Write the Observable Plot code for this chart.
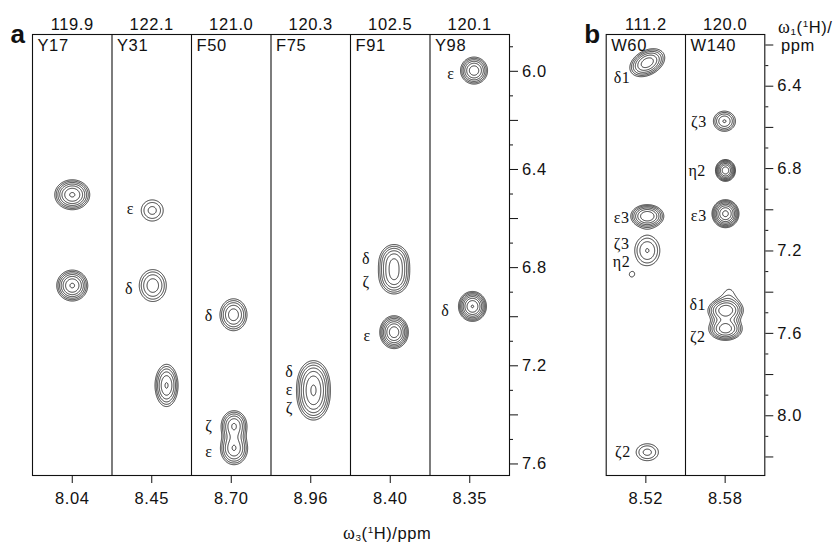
<!DOCTYPE html>
<html><head><meta charset="utf-8">
<script src="https://cdn.jsdelivr.net/npm/d3@7"></script>
<script src="https://cdn.jsdelivr.net/npm/@observablehq/plot@0.6"></script>
<style>
body{margin:0;background:#fff;}
#wrap{position:relative;width:837px;height:543px;overflow:hidden;font-family:"Liberation Sans",Arial,sans-serif;color:#111;background:#fff}
#wrap svg{position:absolute;top:0}
#wrap svg text{letter-spacing:0.6px}
.lab{position:absolute;font-size:16.5px;line-height:1;white-space:nowrap;letter-spacing:0.6px}
.lab sub,.lab sup{font-size:0.6em;line-height:0}
.lab sub{vertical-align:-0.2em}
.w{font-family:"Liberation Serif",serif;font-size:18px}
</style></head><body><div id="wrap"></div>
<script>
// ---- Panel a ----
const stripsA = ["Y17", "Y31", "F50", "F75", "F91", "Y98"];
const n15A = ["119.9", "122.1", "121.0", "120.3", "102.5", "120.1"];
const h1A = ["8.04", "8.45", "8.70", "8.96", "8.40", "8.35"];
const yMajorA = [6.0, 6.4, 6.8, 7.2, 7.6];
const yMidA = [6.2, 6.6, 7.0, 7.4];
const yFineA = [5.9, 6.1, 6.3, 6.5, 6.7, 6.9, 7.1, 7.3, 7.5];
// peaks: [strip, offset from strip centre, ω1 ppm, outer half-width x (strip units), outer half-width y (ppm), intensity, tilt]
const peaksA = [
  [0, 0.000, 6.503, 0.220, 0.061, 0.63, 0],
  [0, 0.000, 6.873, 0.195, 0.063, 0.63, 0],
  [1, 0.006, 6.567, 0.138, 0.043, 0.20, 0],
  [1, 0.013, 6.873, 0.170, 0.065, 0.30, 0],
  [1, 0.186, 7.280, 0.145, 0.086, 0.46, 0],
  [2, 0.028, 6.992, 0.170, 0.065, 0.40, 0],
  [2, 0.035, 7.443, 0.160, 0.060, 0.45, 0],
  [2, 0.035, 7.538, 0.170, 0.065, 0.45, 0],
  [3, 0.034, 7.250, 0.165, 0.068, 0.30, 0],
  [3, 0.034, 7.300, 0.165, 0.068, 0.30, 0],
  [3, 0.034, 7.350, 0.165, 0.068, 0.30, 0],
  [4, 0.048, 6.771, 0.180, 0.065, 0.40, 0],
  [4, 0.048, 6.842, 0.180, 0.065, 0.40, 0],
  [4, 0.048, 7.063, 0.180, 0.067, 0.75, 0],
  [5, 0.054, 5.997, 0.170, 0.055, 0.55, 0],
  [5, 0.034, 6.958, 0.176, 0.061, 0.83, 0]
];
// labels: [strip, position across strip, ω1 ppm, text]
const labelsA = [
  [1, 0.233, 6.559, "ε"], [1, 0.216, 6.885, "δ"],
  [2, 0.218, 6.995, "δ"], [2, 0.218, 7.443, "ζ"], [2, 0.218, 7.552, "ε"],
  [3, 0.230, 7.224, "δ"], [3, 0.230, 7.297, "ε"], [3, 0.230, 7.370, "ζ"],
  [4, 0.197, 6.764, "δ"], [4, 0.197, 6.859, "ζ"], [4, 0.210, 7.077, "ε"],
  [5, 0.264, 6.009, "ε"], [5, 0.193, 6.975, "δ"]
];

// ---- Panel b ----
const stripsB = ["W60", "W140"];
const n15B = ["111.2", "120.0"];
const h1B = ["8.52", "8.58"];
const yMajorB = [6.4, 6.8, 7.2, 7.6, 8.0];
const yMidB = [6.2, 6.6, 7.0, 7.4, 7.8, 8.2];
const yFineB = [6.3, 6.5, 6.7, 6.9, 7.1, 7.3, 7.5, 7.7, 7.9, 8.1];
const peaksB = [
  [0, 0.018, 6.286, 0.220, 0.068, 0.55, -0.35],
  [0, 0.018, 7.031, 0.208, 0.056, 0.60, 0],
  [0, 0.018, 7.198, 0.158, 0.073, 0.25, 0],
  [0, -0.180, 7.315, 0.020, 0.008, 0.104, 0],
  [0, 0.018, 8.177, 0.140, 0.041, 0.20, 0],
  [1, -0.009, 6.570, 0.139, 0.049, 0.34, 0],
  [1, 0.004, 6.809, 0.126, 0.053, 0.75, 0],
  [1, 0.004, 7.019, 0.170, 0.068, 0.90, 0],
  [1, 0.004, 7.489, 0.220, 0.056, 0.55, 0],
  [1, 0.004, 7.578, 0.210, 0.056, 0.55, 0],
  [1, 0.050, 7.410, 0.045, 0.022, 0.11, 0]
];
const labelsB = [
  [0, 0.200, 6.359, "δ1"], [0, 0.194, 7.039, "ε3"], [0, 0.194, 7.164, "ζ3"],
  [0, 0.194, 7.255, "η2"], [0, 0.210, 8.177, "ζ2"],
  [1, 0.168, 6.573, "ζ3"], [1, 0.147, 6.813, "η2"], [1, 0.168, 7.031, "ε3"],
  [1, 0.155, 7.461, "δ1"], [1, 0.155, 7.618, "ζ2"]
];

// contour levels (relative intensity)
const levels = [0.1, 0.135, 0.182, 0.246, 0.332, 0.448, 0.605, 0.817];

function field(peaks) {
  const ps = peaks.map(([s, dx, ppm, wx, wy, amp, tilt]) => {
    const g = Math.sqrt(2 * Math.log(amp / levels[0]));
    return {cx: s + 0.5 + dx, cy: ppm, sx: wx / g, sy: wy / g, amp, rho: tilt};
  });
  return (x, y) => {
    let v = 0;
    for (const p of ps) {
      const u = (x - p.cx) / p.sx, w = (y - p.cy) / p.sy;
      if (Math.abs(u) > 7 || Math.abs(w) > 7) continue;
      const r = p.rho;
      v += p.amp * Math.exp(-(u * u - 2 * r * u * w + w * w) / (2 * (1 - r * r)));
    }
    return v;
  };
}

const INK = "#111";
const fmt = d => d.toFixed(1);
const FS = 16.5;

function panel({strips, n15, h1, yMajor, yMid, yFine, peaks, labels, ydom, width, ml, mr, letter, letterDx}) {
  const n = strips.length;
  return Plot.plot({
    width, height: 543, marginLeft: ml, marginRight: mr, marginTop: 34, marginBottom: 68,
    x: {domain: [0, n]},
    y: {domain: ydom, reverse: true},
    style: {fontFamily: "Liberation Sans, Arial, sans-serif", fontSize: FS + "px", color: INK, background: "transparent", overflow: "visible"},
    marks: [
      Plot.contour({value: field(peaks), x1: 0, x2: n, y1: ydom[0], y2: ydom[1],
        thresholds: levels, stroke: INK, fill: "none", strokeWidth: 0.85, pixelSize: 0.5}),
      Plot.ruleX(d3.range(1, n), {stroke: INK, strokeWidth: 1.1}),
      Plot.frame({stroke: INK, strokeWidth: 1.1}),
      Plot.axisX({anchor: "bottom", ticks: d3.range(n).map(i => i + 0.5), tickSize: 8, tickPadding: 9,
        tickFormat: d => h1[Math.floor(d)], label: null, fontSize: FS}),
      Plot.axisY({anchor: "right", ticks: yMajor, tickSize: 8, tickPadding: 4.5, tickFormat: fmt, label: null, fontSize: FS}),
      Plot.axisY({anchor: "right", ticks: yMid, tickSize: 8, tickFormat: () => "", label: null}),
      Plot.axisY({anchor: "right", ticks: yFine, tickSize: 3, tickFormat: () => "", label: null}),
      Plot.text(n15, {x: (d, i) => i + 0.5, text: d => d, frameAnchor: "top", lineAnchor: "bottom", dy: -5, fontSize: FS}),
      Plot.text(strips, {x: (d, i) => i, text: d => d, frameAnchor: "top", textAnchor: "start", lineAnchor: "top", dx: 5, dy: 5, fontSize: FS}),
      Plot.text(labels, {x: d => d[0] + d[1], y: d => d[2], text: d => d[3], fontFamily: "Liberation Serif, Times New Roman, serif", fontSize: 16}),
      Plot.text([letter], {text: d => d, frameAnchor: "top-left", textAnchor: "middle", lineAnchor: "top", dx: letterDx, dy: -10, fontWeight: "bold", fontSize: 26})
    ]
  });
}

const wrap = document.getElementById("wrap");
const svgA = panel({strips: stripsA, n15: n15A, h1: h1A, yMajor: yMajorA, yMid: yMidA, yFine: yFineA,
  peaks: peaksA, labels: labelsA, ydom: [5.85, 7.647], width: 555, ml: 32, mr: 46, letter: "a", letterDx: -14.5});
svgA.style.left = "0px";
wrap.appendChild(svgA);
const svgB = panel({strips: stripsB, n15: n15B, h1: h1B, yMajor: yMajorB, yMid: yMidB, yFine: yFineB,
  peaks: peaksB, labels: labelsB, ydom: [6.149, 8.29], width: 282, ml: 50.7, mr: 72.7, letter: "b", letterDx: -13.7});
svgB.style.left = "555px";
wrap.appendChild(svgB);

const l3 = document.createElement("div");
l3.className = "lab";
l3.style.left = "343px"; l3.style.top = "524px";
l3.innerHTML = '<span class="w">ω</span><sub>3</sub>(<sup>1</sup>H)/ppm';
wrap.appendChild(l3);
const l1 = document.createElement("div");
l1.className = "lab";
l1.style.left = "778px"; l1.style.top = "18px";
l1.innerHTML = '<span class="w">ω</span><sub>1</sub>(<sup>1</sup>H)/';
wrap.appendChild(l1);
const l1b = document.createElement("div");
l1b.className = "lab";
l1b.style.left = "781px"; l1b.style.top = "37px";
l1b.textContent = "ppm";
wrap.appendChild(l1b);
</script>
</body></html>
